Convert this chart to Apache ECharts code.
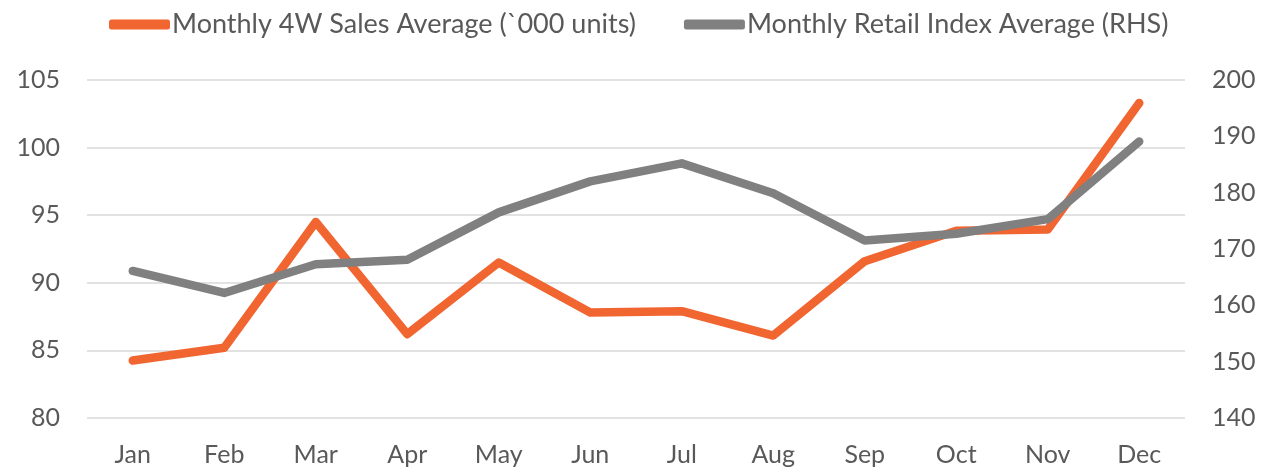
<!DOCTYPE html>
<html><head><meta charset="utf-8">
<script src="https://cdn.jsdelivr.net/npm/echarts@6/dist/echarts.min.js"></script>
<style>html,body{margin:0;padding:0;background:#fff}#c{width:1274px;height:469px}</style>
</head><body><div id="c"></div>
<script>
const months = ['Jan','Feb','Mar','Apr','May','Jun','Jul','Aug','Sep','Oct','Nov','Dec'];
const sales4W = [84.25, 85.2, 94.5, 86.2, 91.5, 87.8, 87.9, 86.1, 91.6, 93.85, 93.95, 103.3];
const retailIndex = [166.1, 162.2, 167.3, 168.1, 176.5, 182.0, 185.2, 179.9, 171.5, 172.7, 175.3, 189.1];
const seriesNames = ['Monthly 4W Sales Average (`000 units)', 'Monthly Retail Index Average (RHS)'];

const FONT = 'Lato, "Open Sans", sans-serif';
const TXT = '#595959';
const chart = echarts.init(document.getElementById('c'), null, {renderer:'canvas'});
chart.setOption({
  animation:false,
  backgroundColor:'#fff',
  legend:{
    top:11, left:109, padding:0,
    itemWidth:61, itemHeight:10, itemGap:48,
    icon:'roundRect',
    textStyle:{fontFamily:FONT, fontSize:27, color:TXT, padding:[0,0,0,-3]},
    data:seriesNames
  },
  grid:{left:87, right:89, top:80, bottom:51, containLabel:false},
  xAxis:{
    type:'category', data:months, boundaryGap:true,
    axisLine:{show:false}, axisTick:{show:false},
    axisLabel:{fontFamily:FONT, fontSize:25, color:TXT, margin:24}
  },
  yAxis:[
    {type:'value', min:80, max:105, interval:5,
     axisLine:{show:false}, axisTick:{show:false},
     splitLine:{lineStyle:{color:'#D9D9D9', width:1.5}},
     axisLabel:{fontFamily:FONT, fontSize:25, color:TXT, margin:27}},
    {type:'value', min:140, max:200, interval:10, position:'right',
     axisLine:{show:false}, axisTick:{show:false},
     splitLine:{show:false},
     axisLabel:{fontFamily:FONT, fontSize:25, color:TXT, margin:27}}
  ],
  series:[
    {name:seriesNames[0], type:'line', yAxisIndex:0, data:sales4W,
     symbol:'none', color:'#F16531',
     lineStyle:{width:8.5, color:'#F16531', cap:'round', join:'round'}, z:2},
    {name:seriesNames[1], type:'line', yAxisIndex:1, data:retailIndex,
     symbol:'none', color:'#808080',
     lineStyle:{width:8.5, color:'#808080', cap:'round', join:'round'}, z:3}
  ]
});
</script></body></html>
